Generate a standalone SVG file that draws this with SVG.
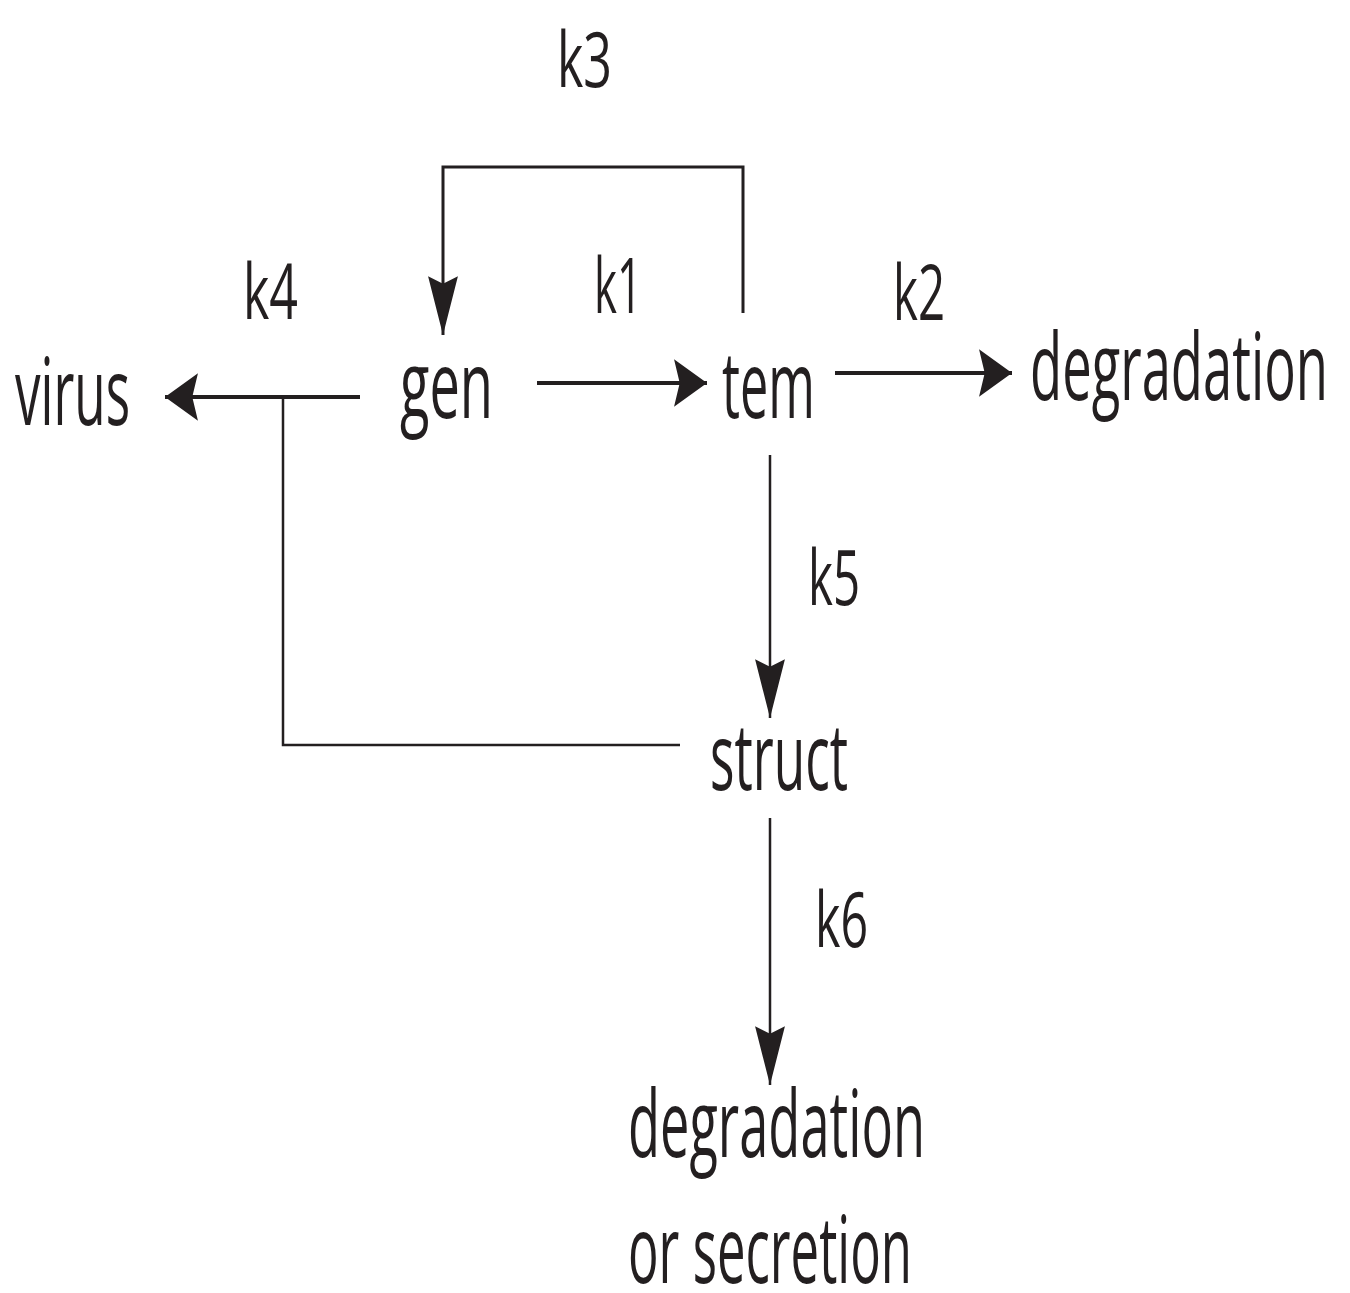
<svg xmlns="http://www.w3.org/2000/svg" width="1350" height="1293" viewBox="0 0 1350 1293">
<style>
.node{font-family:"Open Sans","Liberation Sans",sans-serif;font-size:94px;fill:#231f20}
.lbl{font-family:"Open Sans","Liberation Sans",sans-serif;font-size:76px;fill:#231f20}
.ln{fill:none;stroke:#231f20;stroke-width:3}
.thin{stroke-width:2.5}
</style>
<defs>
<marker id="ah" markerUnits="userSpaceOnUse" markerWidth="40" markerHeight="50" viewBox="0 -22 30 44" refX="29" refY="0" orient="auto">
<path d="M0,-21 L29,0 L0,21 L5,0 Z" fill="#231f20"/>
</marker>
<marker id="av" markerUnits="userSpaceOnUse" markerWidth="60" markerHeight="32" viewBox="0 -15 56 30" refX="55" refY="0" orient="auto">
<path d="M0,-14 L55,0 L0,14 L7,0 Z" fill="#231f20"/>
</marker>
</defs>
<g id="connectors">
<path class="ln" d="M743,313 V167 H443 V335" marker-end="url(#av)"/>
<path class="ln" d="M360,397 H165" marker-end="url(#ah)" style="stroke-width:4"/>
<path class="ln thin" d="M283,397 V745 H680"/>
<path class="ln" d="M537,383 H707" marker-end="url(#ah)" style="stroke-width:4"/>
<path class="ln" d="M835,373 H1012" marker-end="url(#ah)" style="stroke-width:4"/>
<path class="ln thin" d="M770,455 V718" marker-end="url(#av)"/>
<path class="ln thin" d="M770,818 V1085" marker-end="url(#av)"/>
</g>
<g id="labels">
<text class="lbl" x="557" y="87" textLength="55" lengthAdjust="spacingAndGlyphs">k3</text>
<text class="lbl" x="243" y="319" textLength="55" lengthAdjust="spacingAndGlyphs">k4</text>
<text class="lbl" x="594" y="313" textLength="48" lengthAdjust="spacingAndGlyphs">k1</text>
<text class="lbl" x="893" y="320" textLength="52" lengthAdjust="spacingAndGlyphs">k2</text>
<text class="lbl" x="808" y="605" textLength="52" lengthAdjust="spacingAndGlyphs">k5</text>
<text class="lbl" x="815" y="947" textLength="53" lengthAdjust="spacingAndGlyphs">k6</text>
</g>
<g id="node-virus"><text class="node" x="15" y="425" textLength="115" lengthAdjust="spacingAndGlyphs">virus</text></g>
<g id="node-gen"><text class="node" x="400" y="418" textLength="93" lengthAdjust="spacingAndGlyphs">gen</text></g>
<g id="node-tem"><text class="node" x="722" y="418" textLength="93" lengthAdjust="spacingAndGlyphs">tem</text></g>
<g id="node-degradation"><text class="node" x="1030" y="400" textLength="298" lengthAdjust="spacingAndGlyphs">degradation</text></g>
<g id="node-struct"><text class="node" x="710" y="790" textLength="138" lengthAdjust="spacingAndGlyphs">struct</text></g>
<g id="node-degradation-secretion">
<text class="node" x="628" y="1157" textLength="297" lengthAdjust="spacingAndGlyphs">degradation</text>
<text class="node" x="628" y="1283" textLength="284" lengthAdjust="spacingAndGlyphs">or secretion</text>
</g>
</svg>
